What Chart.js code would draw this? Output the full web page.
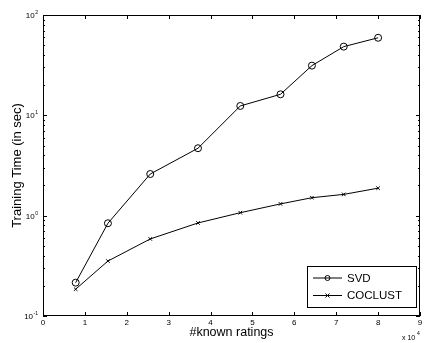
<!DOCTYPE html>
<html>
<head>
<meta charset="utf-8">
<script src="https://cdn.jsdelivr.net/npm/chart.js@4"></script>
<style>
  html, body { margin: 0; padding: 0; background: #fff; }
  #wrap { width: 425px; height: 343px; }
</style>
</head>
<body>
<div id="wrap"><canvas id="chart" width="425" height="343"></canvas></div>
<script>
// ================= DATA =================
const knownRatings = [0.78, 1.55, 2.56, 3.70, 4.71, 5.67, 6.42, 7.18, 8.0]; // x 10^4
const svdTime = [0.215, 0.84, 2.6, 4.7, 12.4, 16.2, 31.3, 48.4, 59.3];
const coclustTime = [0.185, 0.353, 0.586, 0.846, 1.07, 1.31, 1.51, 1.63, 1.88];
const xTicks = [0, 1, 2, 3, 4, 5, 6, 7, 8, 9];
const yTicks = [0.1, 1, 10, 100];
const yTickExp = { 0.1: "-1", 1: "0", 10: "1", 100: "2" };

const FONT = "Liberation Sans, Arial, sans-serif";

// frame, inward ticks, y labels with exponents, legend, exponent note
const framePlugin = {
  id: "frame",
  afterDraw(chart) {
    const ctx = chart.ctx;
    const a = chart.chartArea;
    const xs = chart.scales.x;
    const ys = chart.scales.y;
    ctx.save();
    ctx.strokeStyle = "#000";
    ctx.fillStyle = "#000";
    ctx.lineWidth = 1;
    ctx.strokeRect(a.left + 0.5, a.top + 0.5, a.right - a.left - 1, a.bottom - a.top - 1);

    // x major ticks (bottom and top, inward)
    xTicks.forEach(v => {
      const px = Math.round(xs.getPixelForValue(v)) + 0.5;
      ctx.beginPath();
      ctx.moveTo(px, a.bottom); ctx.lineTo(px, a.bottom - 4);
      ctx.moveTo(px, a.top); ctx.lineTo(px, a.top + 4);
      ctx.stroke();
    });

    // y major + minor ticks (left and right, inward)
    for (let d = 0.1; d < 100; d *= 10) {
      for (let m = 1; m <= 10; m++) {
        const py = Math.round(ys.getPixelForValue(d * m)) + 0.5;
        const len = (m === 1 || m === 10) ? 4 : 2;
        ctx.beginPath();
        ctx.moveTo(a.left, py); ctx.lineTo(a.left + len, py);
        ctx.moveTo(a.right, py); ctx.lineTo(a.right - len, py);
        ctx.stroke();
      }
    }

    // y tick labels: 10 with raised exponent
    ys.ticks.forEach(t => {
      const py = ys.getPixelForValue(t.value);
      const exp = yTickExp[t.value];
      ctx.font = "5px " + FONT;
      const ew = ctx.measureText(exp).width;
      ctx.textAlign = "left";
      ctx.textBaseline = "alphabetic";
      ctx.fillText(exp, 38 - ew, py - 1);
      ctx.font = "8px " + FONT;
      ctx.textAlign = "right";
      ctx.fillText("10", 38 - ew - 0.5, py + 3);
    });

    // legend box
    const lx = 307, ly = 266, lw = 109, lh = 41;
    ctx.fillStyle = "#fff";
    ctx.fillRect(lx, ly, lw, lh);
    ctx.strokeRect(lx + 0.5, ly + 0.5, lw, lh);
    ctx.fillStyle = "#000";
    ctx.font = "11.5px " + FONT;
    ctx.textBaseline = "middle";
    ctx.textAlign = "left";
    chart.data.datasets.forEach((ds, i) => {
      const yy = ly + 12 + i * 17.5;
      ctx.beginPath();
      ctx.moveTo(313, yy); ctx.lineTo(342, yy);
      ctx.stroke();
      const cx = 327.5;
      ctx.beginPath();
      if (ds.pointStyle === "circle") {
        ctx.arc(cx, yy, 2.5, 0, Math.PI * 2);
      } else {
        ctx.moveTo(cx - 2, yy - 2); ctx.lineTo(cx + 2, yy + 2);
        ctx.moveTo(cx - 2, yy + 2); ctx.lineTo(cx + 2, yy - 2);
      }
      ctx.stroke();
      ctx.fillText(ds.label, 347, yy + 0.5);
    });

    // exponent note
    ctx.font = "7px " + FONT;
    ctx.textAlign = "left";
    ctx.textBaseline = "alphabetic";
    ctx.fillText("x 10", 402, 340);
    ctx.font = "5px " + FONT;
    ctx.fillText("4", 417, 335);
    ctx.restore();
  }
};

new Chart(document.getElementById("chart"), {
  type: "line",
  data: {
    datasets: [
      {
        label: "SVD",
        data: knownRatings.map((x, i) => ({ x: x, y: svdTime[i] })),
        borderColor: "#000",
        borderWidth: 1,
        pointStyle: "circle",
        pointRadius: 3.5,
        pointBorderWidth: 1,
        pointBorderColor: "#000",
        pointBackgroundColor: "rgba(0,0,0,0)",
        tension: 0
      },
      {
        label: "COCLUST",
        data: knownRatings.map((x, i) => ({ x: x, y: coclustTime[i] })),
        borderColor: "#000",
        borderWidth: 1,
        pointStyle: "crossRot",
        pointRadius: 2.5,
        pointBorderWidth: 1,
        pointBorderColor: "#000",
        tension: 0
      }
    ]
  },
  options: {
    responsive: false,
    animation: false,
    layout: { padding: { top: 15, right: 1, left: 0, bottom: 0 } },
    plugins: {
      legend: { display: false },
      tooltip: { enabled: false }
    },
    scales: {
      x: {
        type: "linear",
        min: 0,
        max: 9,
        afterFit(scale) { scale.height = 27; },
        afterBuildTicks(scale) { scale.ticks = xTicks.map(v => ({ value: v })); },
        grid: { display: false, drawTicks: false },
        border: { display: false },
        ticks: {
          color: "#000",
          font: { family: FONT, size: 8 },
          padding: 2,
          maxRotation: 0,
          callback: v => String(v)
        },
        title: {
          display: true,
          text: "#known ratings",
          color: "#000",
          font: { family: FONT, size: 12.5 },
          padding: { top: 0, bottom: 3 }
        }
      },
      y: {
        type: "logarithmic",
        min: 0.1,
        max: 100,
        afterFit(scale) { scale.width = 43; },
        afterBuildTicks(scale) { scale.ticks = yTicks.map(v => ({ value: v })); },
        grid: { display: false, drawTicks: false },
        border: { display: false },
        ticks: {
          display: false
        },
        title: {
          display: true,
          text: "Training Time (in sec)",
          color: "#000",
          font: { family: FONT, size: 13 },
          padding: { top: 10, bottom: 0 }
        }
      }
    }
  },
  plugins: [framePlugin]
});
</script>
</body>
</html>
